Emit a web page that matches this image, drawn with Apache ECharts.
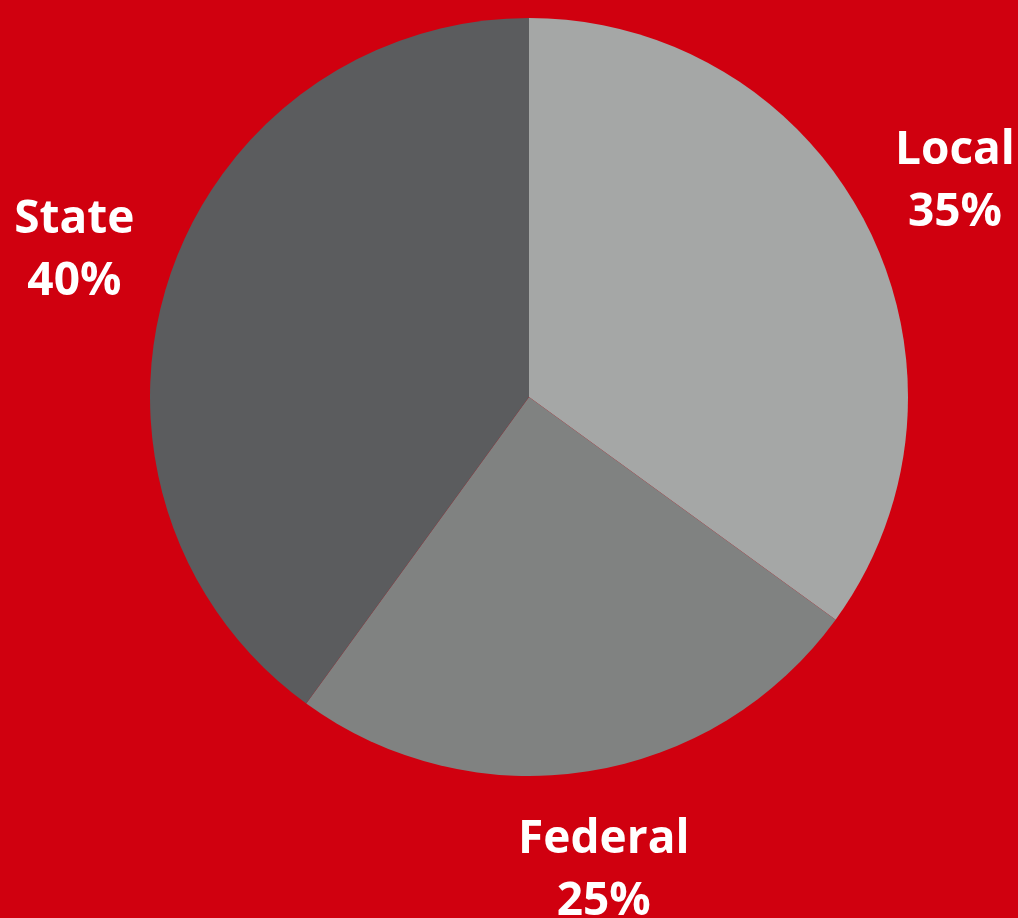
<!DOCTYPE html>
<html>
<head>
<meta charset="utf-8">
<script src="https://cdn.jsdelivr.net/npm/echarts@6/dist/echarts.min.js"></script>
<style>
  html, body { margin: 0; padding: 0; background: #d0000f; }
  #chart { width: 1018px; height: 918px; }
</style>
</head>
<body>
<div id="chart"></div>
<script>
const categories = ['Local', 'Federal', 'State']
const shares = [35, 25, 40]
const sliceColors = ['#a5a7a6', '#808281', '#5b5c5e']

const pieData = categories.map((name, i) => ({
  name,
  value: shares[i],
  itemStyle: { color: sliceColors[i] }
}))

const chart = echarts.init(document.getElementById('chart'))

chart.setOption({
  backgroundColor: '#d0000f',
  animation: false,
  series: [
    {
      name: 'funding',
      type: 'pie',
      center: [529, 397],
      radius: [0, 379],
      startAngle: 90,
      clockwise: true,
      silent: true,
      itemStyle: { borderWidth: 0 },
      label: { show: false },
      labelLine: { show: false },
      data: pieData
    },
    {
      // invisible ring, only used to place the labels along the slice mid-angle
      name: 'labels',
      type: 'pie',
      center: [529, 399],
      radius: [471, 479],
      startAngle: 90,
      clockwise: true,
      silent: true,
      itemStyle: { color: 'rgba(0,0,0,0)', borderWidth: 0 },
      label: {
        show: true,
        position: 'inside',
        formatter: '{b}\n{d}%',
        color: '#fff',
        fontFamily: 'Open Sans',
        fontWeight: 'bold',
        fontSize: 46,
        lineHeight: 62,
        align: 'center'
      },
      labelLine: { show: false },
      data: categories.map((name, i) => ({ name, value: shares[i] }))
    }
  ]
})
</script>
</body>
</html>
